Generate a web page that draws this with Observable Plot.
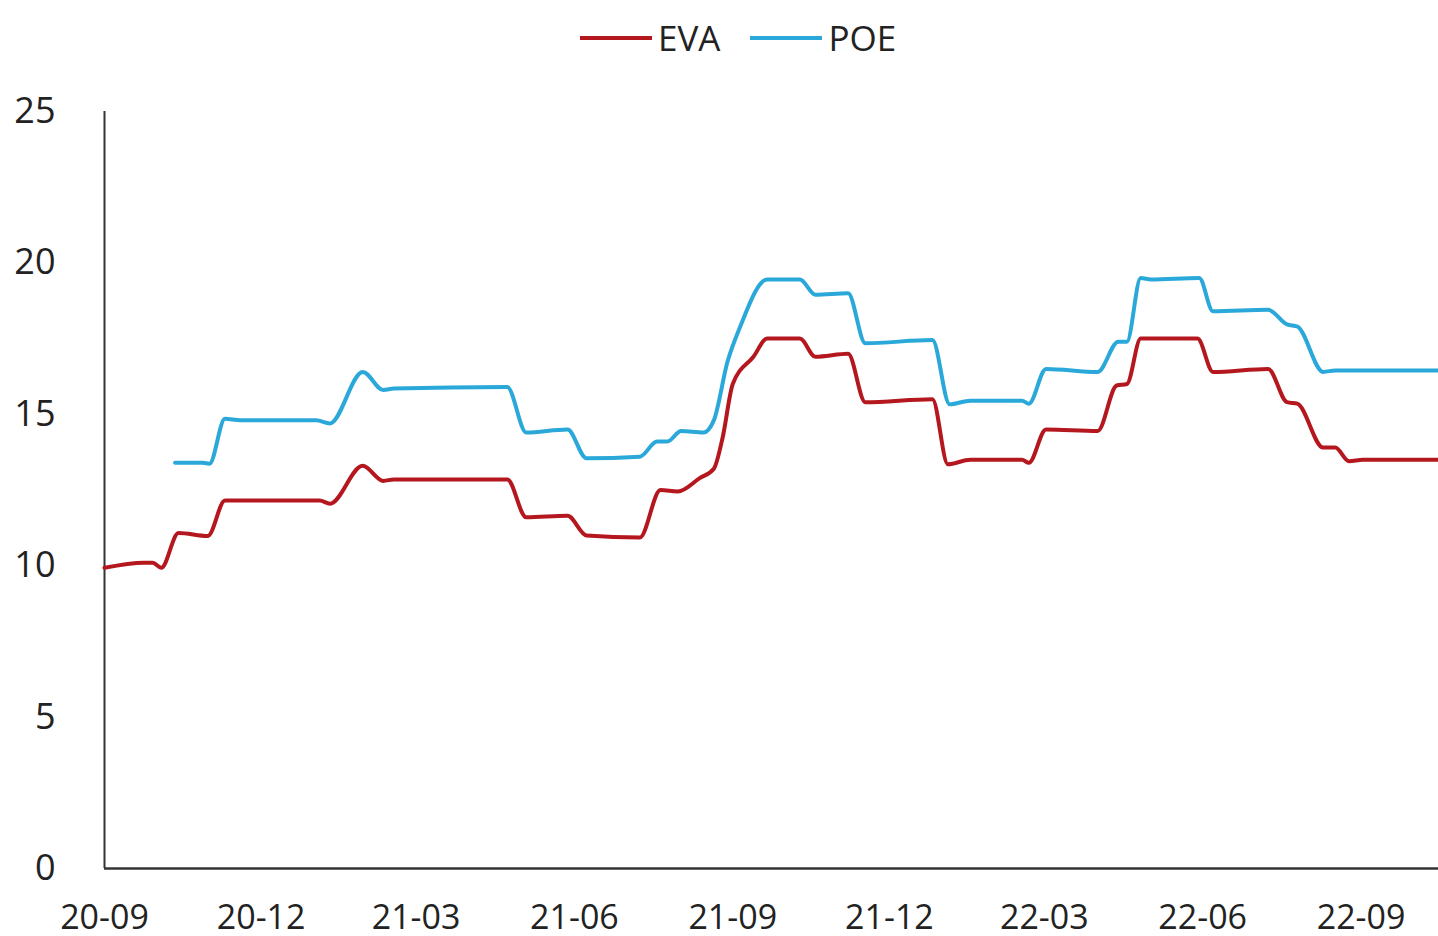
<!DOCTYPE html>
<html>
<head>
<meta charset="utf-8">
<script src="https://cdn.jsdelivr.net/npm/d3@7"></script>
<script src="https://cdn.jsdelivr.net/npm/@observablehq/plot@0.6"></script>
<style>
  html, body { margin: 0; padding: 0; background: #fff; }
  body { width: 1438px; height: 936px; overflow: hidden; font-family: "Open Sans", sans-serif; }
  #legend { position: relative; height: 80px; }
  #legend .items { position: absolute; left: 580px; top: 14px; display: flex; align-items: center; }
  #legend .item { display: flex; align-items: center; margin-right: 30px; }
  #legend .sw { width: 72px; height: 4px; margin-right: 6px; }
  #legend .lab { font-size: 35px; color: #222; line-height: 48px; }
</style>
</head>
<body>
<div id="legend"><div class="items"></div></div>
<div id="chart"></div>
<script>
// Series names and colours
const seriesNames = ["EVA", "POE"];
const seriesColors = ["#B5171F", "#2AA8D9"];

// EVA series (dates, values)
const evaDates = ["2020-09-01","2020-09-24","2020-09-29","2020-10-04","2020-10-14","2020-10-31","2020-11-10",
  "2021-01-04","2021-01-10","2021-01-29","2021-02-10","2021-02-16","2021-04-23","2021-05-04","2021-05-28",
  "2021-06-08","2021-07-09","2021-07-21","2021-07-31","2021-08-13","2021-08-21","2021-08-26","2021-09-01",
  "2021-09-13","2021-09-21","2021-10-10","2021-10-19","2021-11-07","2021-11-17","2021-12-26","2022-01-04",
  "2022-01-17","2022-02-16","2022-02-20","2022-03-02","2022-04-01","2022-04-12","2022-04-18","2022-04-26",
  "2022-05-29","2022-06-07","2022-07-09","2022-07-20","2022-07-26","2022-08-10","2022-08-17","2022-08-25",
  "2022-09-02","2022-10-16"];
const evaValues = [9.93,10.1,10.1,9.93,11.08,10.98,12.15,
  12.15,12.05,13.3,12.8,12.85,12.85,11.6,11.65,
  11.0,10.93,12.5,12.45,12.9,13.2,14.2,16.0,
  16.9,17.5,17.5,16.9,17.0,15.4,15.5,13.35,
  13.5,13.5,13.4,14.5,14.45,15.95,16.0,17.5,
  17.5,16.4,16.5,15.4,15.35,13.9,13.9,13.45,
  13.5,13.5];

// POE series (dates, values)
const poeDates = ["2020-10-12","2020-10-28","2020-11-01","2020-11-10","2020-11-19","2021-01-02","2021-01-10",
  "2021-01-29","2021-02-10","2021-02-16","2021-04-23","2021-05-04","2021-05-28","2021-06-08","2021-07-09",
  "2021-07-19","2021-07-25","2021-08-02","2021-08-15","2021-08-21","2021-08-29","2021-09-05","2021-09-21",
  "2021-10-10","2021-10-19","2021-11-07","2021-11-17","2021-12-26","2022-01-05","2022-01-17","2022-02-16",
  "2022-02-20","2022-03-02","2022-04-01","2022-04-13","2022-04-18","2022-04-26","2022-05-02","2022-05-30",
  "2022-06-07","2022-07-09","2022-07-20","2022-07-26","2022-08-10","2022-08-17","2022-10-16"];
const poeValues = [13.4,13.4,13.37,14.85,14.8,14.8,14.7,
  16.4,15.8,15.85,15.9,14.4,14.5,13.55,13.6,
  14.1,14.1,14.45,14.4,14.8,16.75,17.85,19.45,
  19.45,18.95,19.0,17.35,17.45,15.33,15.45,15.45,
  15.35,16.5,16.4,17.4,17.4,19.5,19.45,19.5,
  18.4,18.45,17.97,17.9,16.4,16.45,16.45];

// Axis ticks
const yTicks = [0, 5, 10, 15, 20, 25];
const xTickLabels = ["20-09","20-12","21-03","21-06","21-09","21-12","22-03","22-06","22-09"];
const xDomain = ["2020-09-01", "2022-10-16"];

const parseDate = d3.utcParse("%Y-%m-%d");
const parseTick = d3.utcParse("%y-%m");
const eva = evaDates.map((d, i) => ({date: parseDate(d), value: evaValues[i]}));
const poe = poeDates.map((d, i) => ({date: parseDate(d), value: poeValues[i]}));
const xTicks = xTickLabels.map(parseTick);
const x0 = parseDate(xDomain[0]), x1 = parseDate(xDomain[1]);

// Legend
const items = document.querySelector("#legend .items");
seriesNames.forEach((n, i) => {
  const it = document.createElement("div");
  it.className = "item";
  const sw = document.createElement("div");
  sw.className = "sw";
  sw.style.background = seriesColors[i];
  const lab = document.createElement("span");
  lab.className = "lab";
  lab.textContent = n;
  it.appendChild(sw); it.appendChild(lab);
  items.appendChild(it);
});

const chart = Plot.plot({
  width: 1438,
  height: 856,
  marginLeft: 104,
  marginRight: 0,
  marginTop: 31,
  marginBottom: 68,
  style: {fontFamily: "'Open Sans', sans-serif", color: "#222", background: "#fff", overflow: "visible"},
  x: {type: "utc", domain: [x0, x1]},
  y: {domain: [0, 25]},
  marks: [
    Plot.axisY({ticks: yTicks, tickSize: 0, tickPadding: 49, fontSize: 36, tickFormat: d => String(d), label: null}),
    Plot.axisX({ticks: xTicks, tickSize: 0, tickPadding: 36, fontSize: 34, tickFormat: (d, i) => xTickLabels[i], label: null}),
    Plot.ruleX([x0], {stroke: "#333", strokeWidth: 2}),
    Plot.ruleY([0], {stroke: "#333", strokeWidth: 2.5}),
    Plot.line(eva, {x: "date", y: "value", stroke: seriesColors[0], strokeWidth: 4, curve: "monotone-x"}),
    Plot.line(poe, {x: "date", y: "value", stroke: seriesColors[1], strokeWidth: 4, curve: "monotone-x"})
  ]
});
document.getElementById("chart").appendChild(chart);
</script>
</body>
</html>
